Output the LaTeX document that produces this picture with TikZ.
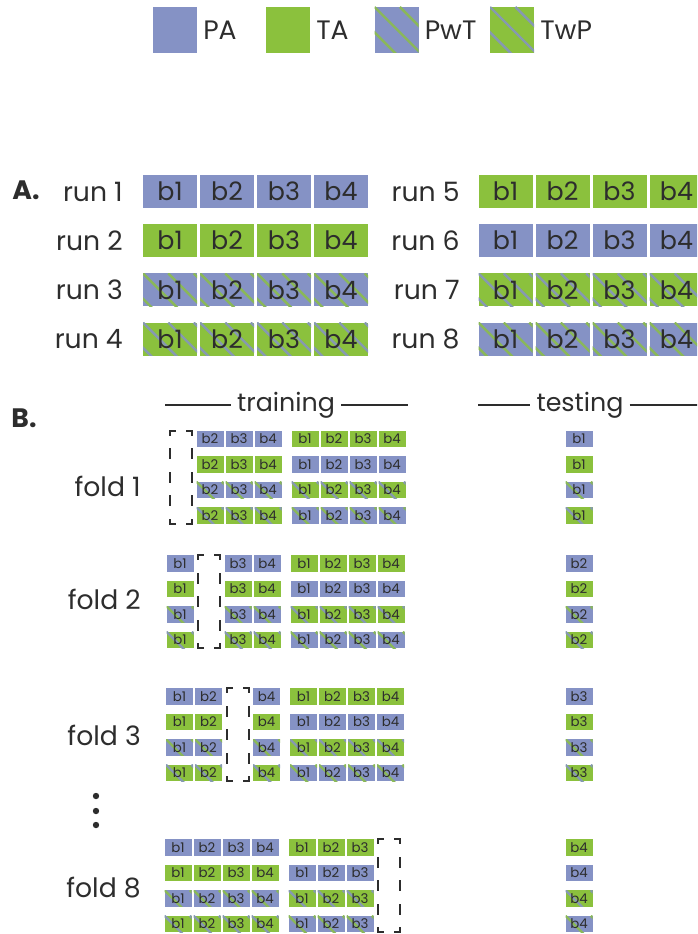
\documentclass[tikz,border=0pt]{standalone}
\usepackage{fontspec}
\setmainfont{Poppins}
\usetikzlibrary{positioning}
\definecolor{pablue}{RGB}{133,146,197}
\definecolor{tagreen}{RGB}{139,193,61}
\definecolor{inkgray}{RGB}{45,45,45}
\tikzset{
  stripes/.style={path picture={\foreach \k in {-3,...,3}
      \draw[#1,line width=1.8pt] ([xshift=\k*19pt]path picture bounding box.north west) -- ++(50pt,-50pt);}},
  pa/.style={fill=pablue},
  ta/.style={fill=tagreen},
  pwt/.style={fill=pablue,stripes=tagreen!80!pablue},
  twp/.style={fill=tagreen,stripes=pablue!85!tagreen}
}
\begin{document}
\begin{tikzpicture}[x=0.75pt,y=-0.75pt,
    cell/.style={inner sep=0pt,outer sep=0pt,text=inkgray},
    bigcell/.style={cell,minimum width=40.5pt,minimum height=24.75pt,font=\fontsize{19}{19}\selectfont},
    smallcell/.style={cell,minimum width=20.25pt,minimum height=12.4pt,font=\fontsize{10}{10}\selectfont},
    keybox/.style={cell,minimum width=33pt,minimum height=34.5pt},
    lbl/.style={inner sep=0pt,text=inkgray,font=\fontsize{20}{20}\selectfont},
    head/.style={lbl,font=\fontsize{20}{20}\selectfont\bfseries},
    title/.style={lbl,inner xsep=4.5pt,font=\fontsize{19}{19}\selectfont},
    sepline/.style={draw=inkgray,line width=1.1pt},
    holdbox/.style={inner sep=0pt,outer sep=0pt,minimum width=16.5pt,minimum height=69.75pt},
    holdout/.style={draw=inkgray,line width=1.5pt,line cap=rect}]
  \useasboundingbox (0,0) rectangle (697,934);
  \clip (0,0) rectangle (697,934);
  % legend
  \node[keybox,pa] (kPA) at (175,30) {};
  \node[lbl,right=4.5pt of kPA] (tPA) {PA};
  \node[keybox,ta] (kTA) at (288,30) {};
  \node[lbl,right=4.5pt of kTA] (tTA) {TA};
  \node[keybox,pwt] (kPwT) at (396.5,30) {};
  \node[lbl,right=4.5pt of kPwT] (tPwT) {PwT};
  \node[keybox,twp] (kTwP) at (512,30) {};
  \node[lbl,right=4.5pt of kTwP] (tTwP) {TwP};
  % A: runs
  \node[head] (A) at (26,190) {A.};
  \foreach \r/\sty in {1/pa,2/ta,3/pwt,4/twp} {
    \foreach \b in {1,...,4}
      \node[bigcell,\sty] (a\r-\b) at ({170+57*(\b-1)},{191.5+49.2*(\r-1)}) {b\b};
    \node[lbl,left=15pt of a\r-1] (run\r) {run \r};
  }
  \foreach \r/\sty in {5/ta,6/pa,7/twp,8/pwt} {
    \foreach \b in {1,...,4}
      \node[bigcell,\sty] (a\r-\b) at ({505.5+57*(\b-1)},{191.5+49.2*(\r-5)}) {b\b};
    \node[lbl,left=14pt of a\r-1] (run\r) {run \r};
  }
  % B: folds
  \node[head] (B) at (24,418) {B.};
  \node[title] (trn) at (286,405) {training};
  \coordinate (trnL) at (165,405);
  \coordinate (trnR) at (408,405);
  \draw[sepline] (trnL) -- (trn.west);
  \draw[sepline] (trn.east) -- (trnR);
  \node[title] (tst) at (580,405) {testing};
  \coordinate (tstL) at (478,405);
  \coordinate (tstR) at (700,405);
  \draw[sepline] (tstL) -- (tst.west);
  \draw[sepline] (tst.east) -- (tstR);
  \foreach \f/\y/\o/\dx/\ly in {1/439/1/0/486,2/563.5/2/-1/599,3/696.5/3/-1.5/735,8/847.5/8/-3/888} {
    \foreach \r/\ls/\rs in {1/pa/ta,2/ta/pa,3/pwt/twp,4/twp/pwt} {
      \pgfmathsetmacro\ry{\y+25.5*(\r-1)}
      \foreach \c in {1,...,8} {
        \ifnum\c=\o\relax\else
          \ifnum\c<5 \let\sty\ls \def\blk{\c}\pgfmathsetmacro\cx{181+29*(\c-1)+\dx}%
          \else \let\sty\rs \pgfmathtruncatemacro\blk{\c-4}\pgfmathsetmacro\cx{305+29*(\c-5)+\dx}\fi
          \node[smallcell,\sty] (f\f-\r-\c) at (\cx,\ry) {b\blk};
        \fi
      }
      \ifnum\o<5 \let\tsty\ls \def\tb{\o}\else \let\tsty\rs \pgfmathtruncatemacro\tb{\o-4}\fi
      \node[smallcell,\tsty] (t\f-\r) at (579,\ry) {b\tb};
    }
    \pgfmathsetmacro\hx{(\o<5 ? 181+29*(\o-1) : 305+29*(\o-5))+\dx}
    \node[holdbox] (h\f) at (\hx,\y+38.25) {};
    \draw[holdout,dash pattern=on 3.75pt off 9pt on 3.75pt] (h\f.north west) -- (h\f.north east);
    \draw[holdout,dash pattern=on 3.75pt off 9pt on 3.75pt] (h\f.south west) -- (h\f.south east);
    \draw[holdout,dash pattern=on 3pt off 10.9pt on 6.75pt off 10.9pt on 6.75pt off 10.9pt on 6.75pt off 10.9pt on 3pt]
      (h\f.north west) -- (h\f.south west);
    \draw[holdout,dash pattern=on 3pt off 10.9pt on 6.75pt off 10.9pt on 6.75pt off 10.9pt on 6.75pt off 10.9pt on 3pt]
      (h\f.north east) -- (h\f.south east);
    \node[lbl,anchor=east] (fold\f) at (141,\ly) {fold \f};
  }
  % skipped folds
  \foreach \d in {796,811,825}
    \fill[inkgray] (96,\d) circle (2.4pt);
\end{tikzpicture}
\end{document}
